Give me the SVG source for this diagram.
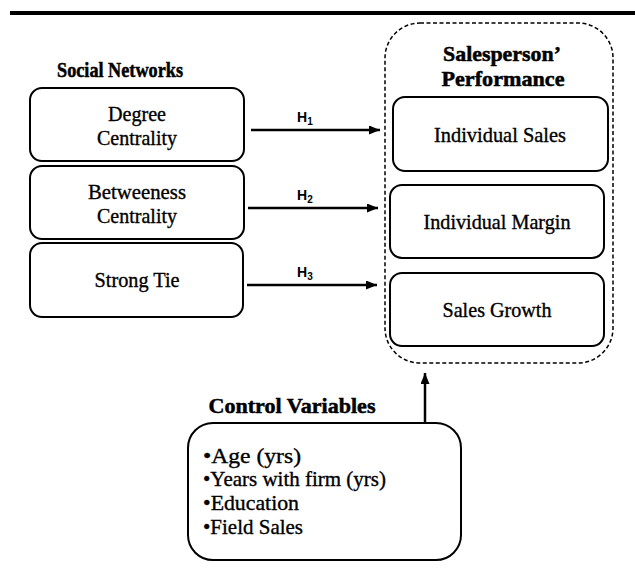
<svg xmlns="http://www.w3.org/2000/svg" width="635" height="568" viewBox="0 0 635 568">
<style>
.box{fill:#fff;stroke:#000;stroke-width:2}
.t{font-family:"Liberation Serif",serif;font-size:21px;fill:#000;stroke:#000;stroke-width:0.35;text-anchor:middle}
.b{font-family:"Liberation Serif",serif;font-size:22px;font-weight:bold;fill:#000;stroke:#000;stroke-width:0.5;text-anchor:middle}
.l{font-family:"Liberation Serif",serif;font-size:21px;fill:#000;stroke:#000;stroke-width:0.35}
.h{font-family:"Liberation Sans",sans-serif;font-size:14px;font-weight:bold;fill:#000}
.hs{font-size:10px}
.c{stroke:#000;stroke-width:2.5;fill:none}
</style>
<defs>
<marker id="arr" viewBox="0 0 11 9" refX="11" refY="4.5" markerWidth="11" markerHeight="9" markerUnits="userSpaceOnUse" orient="auto">
<path d="M0,0 L11,4.5 L0,9 Z" fill="#000"/>
</marker>
</defs>
<rect x="10" y="11" width="625" height="4" fill="#000"/>
<g id="social-title"><text class="b" x="120" y="77" textLength="126" lengthAdjust="spacingAndGlyphs">Social Networks</text></g>
<g id="degree">
<rect class="box" x="30" y="88" width="214" height="73" rx="12"/>
<text class="t" x="137" y="121" textLength="58" lengthAdjust="spacingAndGlyphs">Degree</text>
<text class="t" x="137" y="145" textLength="80" lengthAdjust="spacingAndGlyphs">Centrality</text>
</g>
<g id="betweeness">
<rect class="box" x="30" y="166" width="214" height="73" rx="12"/>
<text class="t" x="137" y="199" textLength="98" lengthAdjust="spacingAndGlyphs">Betweeness</text>
<text class="t" x="137" y="223" textLength="80" lengthAdjust="spacingAndGlyphs">Centrality</text>
</g>
<g id="strongtie">
<rect class="box" x="30" y="243" width="213" height="74" rx="12"/>
<text class="t" x="137" y="287" textLength="85" lengthAdjust="spacingAndGlyphs">Strong Tie</text>
</g>
<g id="performance">
<rect x="385" y="23" width="228" height="340" rx="35" fill="none" stroke="#000" stroke-width="1.5" stroke-dasharray="4 2.5"/>
<text class="b" x="502" y="61" textLength="118" lengthAdjust="spacingAndGlyphs">Salesperson’</text>
<text class="b" x="503" y="86" textLength="123" lengthAdjust="spacingAndGlyphs">Performance</text>
</g>
<g id="indsales">
<rect class="box" x="393" y="97" width="215" height="74" rx="12"/>
<text class="t" x="500" y="142" textLength="132" lengthAdjust="spacingAndGlyphs">Individual Sales</text>
</g>
<g id="indmargin">
<rect class="box" x="390" y="185" width="214" height="73" rx="12"/>
<text class="t" x="497" y="229" textLength="147" lengthAdjust="spacingAndGlyphs">Individual Margin</text>
</g>
<g id="salesgrowth">
<rect class="box" x="390" y="273" width="214" height="73" rx="12"/>
<text class="t" x="497" y="317" textLength="109" lengthAdjust="spacingAndGlyphs">Sales Growth</text>
</g>
<g id="control">
<text class="b" x="292" y="413" textLength="167" lengthAdjust="spacingAndGlyphs">Control Variables</text>
<rect class="box" x="188" y="423" width="273" height="137" rx="25"/>
<text class="l" x="203" y="463" textLength="98" lengthAdjust="spacingAndGlyphs">•Age (yrs)</text>
<text class="l" x="203" y="486" textLength="183" lengthAdjust="spacingAndGlyphs">•Years with firm (yrs)</text>
<text class="l" x="203" y="510" textLength="96" lengthAdjust="spacingAndGlyphs">•Education</text>
<text class="l" x="203" y="534" textLength="100" lengthAdjust="spacingAndGlyphs">•Field Sales</text>
</g>
<g id="connectors">
<line class="c" x1="251" y1="130" x2="380" y2="130" marker-end="url(#arr)"/>
<line class="c" x1="248" y1="208" x2="378" y2="208" marker-end="url(#arr)"/>
<line class="c" x1="247" y1="285" x2="377" y2="285" marker-end="url(#arr)"/>
<line class="c" x1="425" y1="423" x2="425" y2="373" marker-end="url(#arr)"/>
<text class="h" x="297" y="122">H<tspan class="hs" dy="3">1</tspan></text>
<text class="h" x="297" y="200">H<tspan class="hs" dy="3">2</tspan></text>
<text class="h" x="297" y="277">H<tspan class="hs" dy="3">3</tspan></text>
</g>
</svg>
